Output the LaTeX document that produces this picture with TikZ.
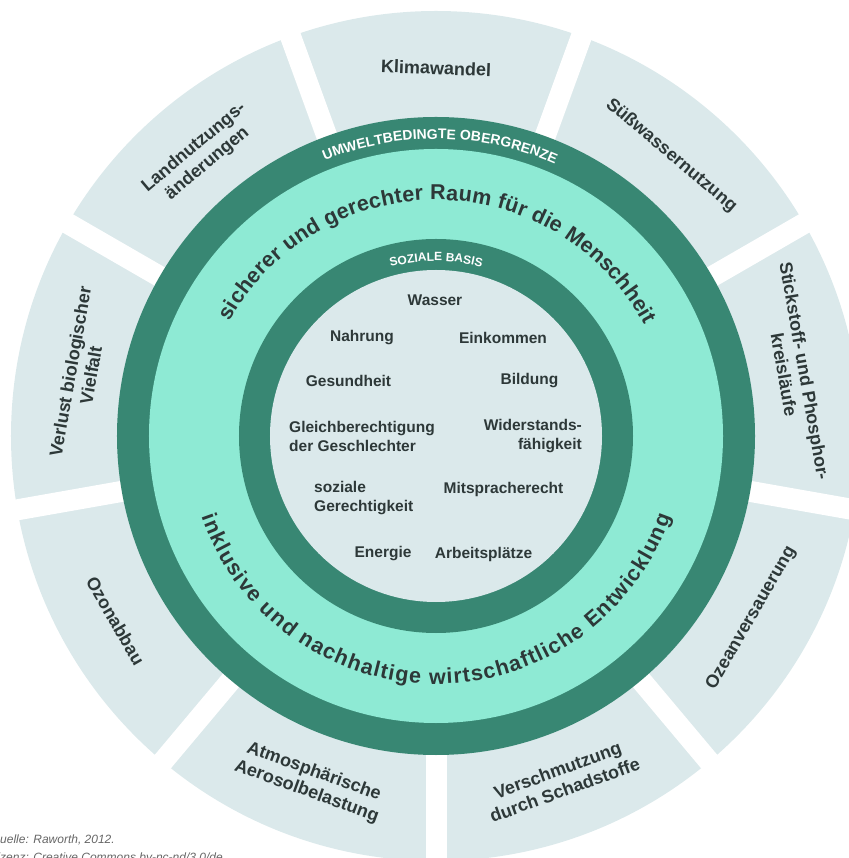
\documentclass[tikz,border=0pt]{standalone}
\usepackage{fontspec}
\setmainfont{Liberation Sans}
\usetikzlibrary{decorations.text}
\definecolor{seg}{HTML}{DBE9EB}
\definecolor{ringdark}{HTML}{388773}
\definecolor{mint}{HTML}{8EEAD4}
\definecolor{ink}{HTML}{2D3838}
\definecolor{foot}{HTML}{666666}
\begin{document}
\begin{tikzpicture}[x=1pt,y=1pt,
  seglabel/.style={text=ink, font=\fontsize{18}{21}\selectfont\bfseries, align=center, inner sep=0pt},
  innerlabel/.style={text=ink, font=\fontsize{15.5}{19}\selectfont\bfseries, inner sep=0pt},
  gapstrip/.style={white, line width=21pt},
  footnote/.style={anchor=base west, text=foot, font=\fontsize{12}{14}\selectfont\itshape, inner sep=0pt},
]
\useasboundingbox (-436,-422) rectangle (412,436);
% outer segments
\fill[seg] (0,0) circle[radius=425];
\foreach \a in {110,70,30,-10,-50,-90,-130,-170,150}
  \draw[gapstrip] (0,0) -- (\a:450);
% rings
\fill[ringdark] (0,0) circle[radius=319];
\fill[mint] (0,0) circle[radius=287];
\fill[ringdark] (0,0) circle[radius=197];
\fill[seg] (0,0) circle[radius=166];

% segment labels
\node[seglabel, rotate=-2] (klima) at (90:368) {Klimawandel};
\node[seglabel, rotate=-40] (suess) at (50:366) {Süßwassernutzung};
\node[seglabel, rotate=-80] (stick) at (10:364) {Stickstoff- und Phosphor-\\kreisläufe};
\node[seglabel, rotate=60] (ozean) at (-30:364) {Ozeanversauerung};
\node[seglabel, rotate=20] (versch) at (-70:366) {Verschmutzung\\durch Schadstoffe};
\node[seglabel, rotate=-20] (atmo) at (250:368) {Atmosphärische\\Aerosolbelastung};
\node[seglabel, rotate=-60] (ozon) at (210:370) {Ozonabbau};
\node[seglabel, rotate=80] (verlust) at (170:361) {Verlust biologischer\\Vielfalt};
\node[seglabel, rotate=40] (land) at (130:366) {Landnutzungs-\\änderungen};

% curved ring texts
\path[decorate, decoration={text along path, text align={fit to path}, text color=white,
  text={|\fontsize{14}{16}\selectfont\bfseries|UMWELTBEDINGTE OBERGRENZE}}]
  (112:297) arc[start angle=112, end angle=67, radius=297];
\path[decorate, decoration={text along path, text align={fit to path}, text color=white,
  text={|\fontsize{12}{14}\selectfont\bfseries|SOZIALE BASIS}}]
  (105:175) arc[start angle=105, end angle=75, radius=175];
\path[decorate, decoration={text along path, text align={fit to path}, text color=ink,
  text={|\fontsize{21.5}{25}\selectfont\bfseries|sicherer und gerechter Raum für die Menschheit}}]
  (151:236) arc[start angle=151, end angle=28, radius=236];
\path[decorate, decoration={text along path, text align={fit to path}, text color=ink,
  text={|\fontsize{21.5}{25}\selectfont\bfseries|inklusive und nachhaltige wirtschaftliche Entwicklung}}]
  (199:248) arc[start angle=199, end angle=341, radius=248];

% social foundation labels
\node[innerlabel] (wasser) at (-1,136) {Wasser};
\node[innerlabel] (nahrung) at (-74,98) {Nahrung};
\node[innerlabel] (einkommen) at (67,98) {Einkommen};
\node[innerlabel] (gesundheit) at (-87.5,55) {Gesundheit};
\node[innerlabel] (bildung) at (93.5,55) {Bildung};
\node[innerlabel, anchor=west, align=left] (gleich) at (-147,-0.5) {Gleichberechtigung\\der Geschlechter};
\node[innerlabel, anchor=east, align=right] (wider) at (146,-0.5) {Widerstands-\\fähigkeit};
\node[innerlabel, anchor=west, align=left] (sozial) at (-122,-62.5) {soziale\\Gerechtigkeit};
\node[innerlabel] (mitsprache) at (67.5,-53) {Mitspracherecht};
\node[innerlabel] (energie) at (-53,-118) {Energie};
\node[innerlabel] (arbeit) at (47.5,-118) {Arbeitsplätze};

% source footnote (cropped at the left edge)
\node[footnote] (quelle) at (-445.3,-407) {Quelle: Raworth, 2012.};
\node[footnote] (lizenz) at (-445.3,-425) {Lizenz: Creative Commons by-nc-nd/3.0/de};
\end{tikzpicture}
\end{document}
